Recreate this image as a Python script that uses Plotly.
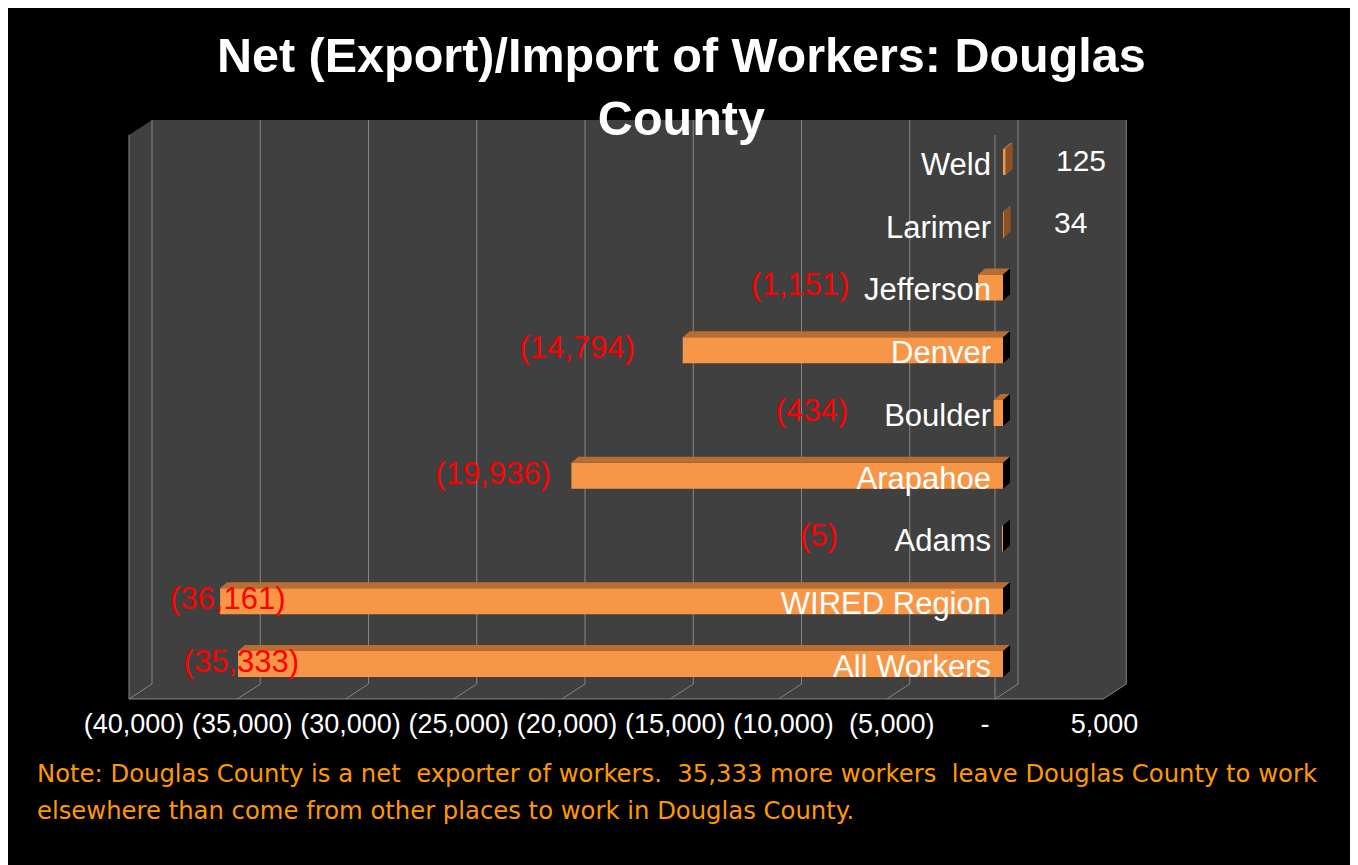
import plotly.graph_objects as go

# ---------------- data ----------------
categories = ["All Workers", "WIRED Region", "Adams", "Arapahoe", "Boulder",
              "Denver", "Jefferson", "Larimer", "Weld"]
net_workers = [-35333, -36161, -5, -19936, -434, -14794, -1151, 34, 125]
tick_values = [-40000, -35000, -30000, -25000, -20000, -15000, -10000, -5000, 0, 5000]
tick_labels = ["(40,000)", "(35,000)", "(30,000)", "(25,000)", "(20,000)",
               "(15,000)", "(10,000)", "(5,000)", "-\u00a0\u00a0\u00a0\u00a0", "5,000\u00a0"]
title_text = "<b>Net (Export)/Import of Workers: Douglas<br>County</b>"
note_line1 = ("Note: Douglas County is a net  exporter of workers.  35,333 more workers  "
              "leave Douglas County to work")
note_line2 = "elsewhere than come from other places to work in Douglas County."

# ---------------- geometry (screen pixels) ----------------
W, H, OFF = 1350, 857, 8


def fx(X):
    return (X - OFF) / W


def fy(Y):
    return 1 - (Y - OFF) / H


XMIN, XMAX = -40000, 5000
S = 866 / 40000            # px per worker
FRONT_LEFT = 129
FLOOR_FRONT, FLOOR_BACK = 699, 684
TOP_FRONT, TOP_BACK = 135, 120
DEPTH_DX = 23
BAR_DX = 8


def front_px(v):
    return FRONT_LEFT + (v - XMIN) * S


FRONT_RIGHT = front_px(XMAX)
CAT0_PX, CAT_STEP = 664, 62.75
idx = list(range(len(categories)))
y_range = [(CAT0_PX - FLOOR_FRONT) / CAT_STEP, (CAT0_PX - TOP_FRONT) / CAT_STEP]

LBL_ZERO, LBL_S = 819, 0.01635

ORANGE = "#F79646"
TOP_COL = "#B86E33"
SIDE_POS = "#8A5226"
GRID = "#868686"
WALL = "#404040"

FONT = "Liberation Sans, Arial, sans-serif"

fig = go.Figure()

# front faces of bars
fig.add_trace(go.Bar(
    x=net_workers, y=idx, orientation="h", width=26 / CAT_STEP,
    marker=dict(color=ORANGE, line=dict(width=0)),
    xaxis="x", yaxis="y", hoverinfo="skip", showlegend=False))

# 3-D faces (top and end) built from the values
dxd = 7 / S
dyd = 6 / CAT_STEP
half = 13 / CAT_STEP
top_x, top_y, neg_x, neg_y, pos_x, pos_y = [], [], [], [], [], []
for i, v in zip(idx, net_workers):
    lo, hi = min(v, 0), max(v, 0)
    top_x += [lo, hi, hi + dxd, lo + dxd, lo, None]
    top_y += [i + half, i + half, i + half + dyd, i + half + dyd, i + half, None]
    sx = [hi, hi, hi + dxd, hi + dxd, hi, None]
    sy = [i - half, i + half, i + half + dyd, i - half + dyd, i - half, None]
    if v < 0:
        neg_x += sx
        neg_y += sy
    else:
        pos_x += sx
        pos_y += sy

for xs, ys, col in [(top_x, top_y, TOP_COL), (neg_x, neg_y, "#000000"), (pos_x, pos_y, SIDE_POS)]:
    fig.add_trace(go.Scatter(x=xs, y=ys, mode="lines", fill="toself", fillcolor=col,
                             line=dict(width=0, color=col), xaxis="x", yaxis="y",
                             hoverinfo="skip", showlegend=False))

# dummy trace for the front tick axis
fig.add_trace(go.Scatter(x=[None], y=[None], xaxis="x2", yaxis="y", showlegend=False,
                         hoverinfo="skip"))

# negative data labels
neg_vals = [v for v in net_workers if v < 0]
neg_idx = [i for i, v in zip(idx, net_workers) if v < 0]
fig.add_trace(go.Scatter(
    x=neg_vals, y=neg_idx, mode="text",
    text=["({:,})".format(-v) for v in neg_vals], textposition="middle center",
    textfont=dict(family=FONT, size=31, color="#FF0000"),
    xaxis="x3", yaxis="y", cliponaxis=False, hoverinfo="skip", showlegend=False))

annotations = []
for i, v in zip(idx, net_workers):
    if v > 0:
        annotations.append(dict(x=v, y=i, xref="x", yref="y", text="{:,}".format(v),
                                showarrow=False, xanchor="left", yanchor="middle",
                                xshift=48, yshift=2,
                                font=dict(family=FONT, size=30, color="white")))

annotations.append(dict(x=fx(681.5), y=fy(86), xref="paper", yref="paper", text=title_text,
                        showarrow=False, xanchor="center", yanchor="middle",
                        font=dict(family=FONT, size=48.5, color="white")))
NOTE_FONT = "DejaVu Sans, sans-serif"
annotations.append(dict(x=fx(35), y=fy(773), xref="paper", yref="paper", text=note_line1,
                        showarrow=False, xanchor="left", yanchor="middle",
                        font=dict(family=NOTE_FONT, size=24.3, color="#FF9900")))
annotations.append(dict(x=fx(35), y=fy(810), xref="paper", yref="paper", text=note_line2,
                        showarrow=False, xanchor="left", yanchor="middle",
                        font=dict(family=NOTE_FONT, size=24.3, color="#FF9900")))

# ---------------- walls, grid and floor as background shapes ----------------
shapes = []
wall_pts = [(FRONT_LEFT, TOP_FRONT), (FRONT_LEFT + DEPTH_DX, TOP_BACK),
            (FRONT_RIGHT + DEPTH_DX, TOP_BACK), (FRONT_RIGHT + DEPTH_DX, FLOOR_BACK),
            (FRONT_RIGHT, FLOOR_FRONT), (FRONT_LEFT, FLOOR_FRONT)]
path = "M " + " L ".join("{:.5f},{:.5f}".format(fx(a), fy(b)) for a, b in wall_pts) + " Z"
shapes.append(dict(type="path", path=path, xref="paper", yref="paper",
                   fillcolor=WALL, line=dict(width=0), layer="below"))


def seg(x0, y0, x1, y1):
    return dict(type="line", xref="paper", yref="paper", x0=fx(x0), y0=fy(y0),
                x1=fx(x1), y1=fy(y1), line=dict(color=GRID, width=1), layer="below")


for t in tick_values:
    xf = front_px(t)
    shapes.append(seg(xf + DEPTH_DX, TOP_BACK, xf + DEPTH_DX, FLOOR_BACK))
    shapes.append(seg(xf, FLOOR_FRONT, xf + DEPTH_DX, FLOOR_BACK))
shapes.append(seg(FRONT_LEFT, FLOOR_FRONT, FRONT_RIGHT, FLOOR_FRONT))
shapes.append(seg(FRONT_LEFT, TOP_FRONT, FRONT_LEFT, FLOOR_FRONT))
shapes.append(seg(front_px(0), TOP_FRONT, front_px(0), FLOOR_FRONT))

fig.update_layout(
    width=W, height=H, margin=dict(l=0, r=0, t=0, b=0, pad=0, autoexpand=False),
    paper_bgcolor="black", plot_bgcolor="rgba(0,0,0,0)",
    showlegend=False, shapes=shapes, annotations=annotations,
    font=dict(family=FONT, color="white"),
    xaxis=dict(domain=[fx(FRONT_LEFT + BAR_DX), fx(FRONT_RIGHT + BAR_DX)], range=[XMIN, XMAX],
               visible=False, anchor="y", automargin=False),
    xaxis2=dict(domain=[fx(FRONT_LEFT), fx(FRONT_RIGHT)], range=[XMIN, XMAX], anchor="y",
                tickvals=tick_values, ticktext=tick_labels, ticks="", showgrid=False,
                zeroline=False, showline=False, ticklabelshift=5, ticklabelstandoff=6,
                tickangle=0, automargin=False,
                tickfont=dict(family=FONT, size=27, color="white")),
    xaxis3=dict(domain=[fx(LBL_ZERO + XMIN * LBL_S), fx(LBL_ZERO + XMAX * LBL_S)],
                range=[XMIN, XMAX], visible=False, anchor="y", automargin=False),
    yaxis=dict(domain=[fy(FLOOR_FRONT), fy(TOP_FRONT)], range=y_range, anchor="free",
               position=fx(front_px(0)), side="left", tickvals=idx, ticktext=categories,
               ticks="", showgrid=False, zeroline=False, showline=False,
               ticklabelshift=2, ticklabelstandoff=4, automargin=False,
               tickfont=dict(family=FONT, size=31, color="white")),
)

fig.write_html("out.html")
